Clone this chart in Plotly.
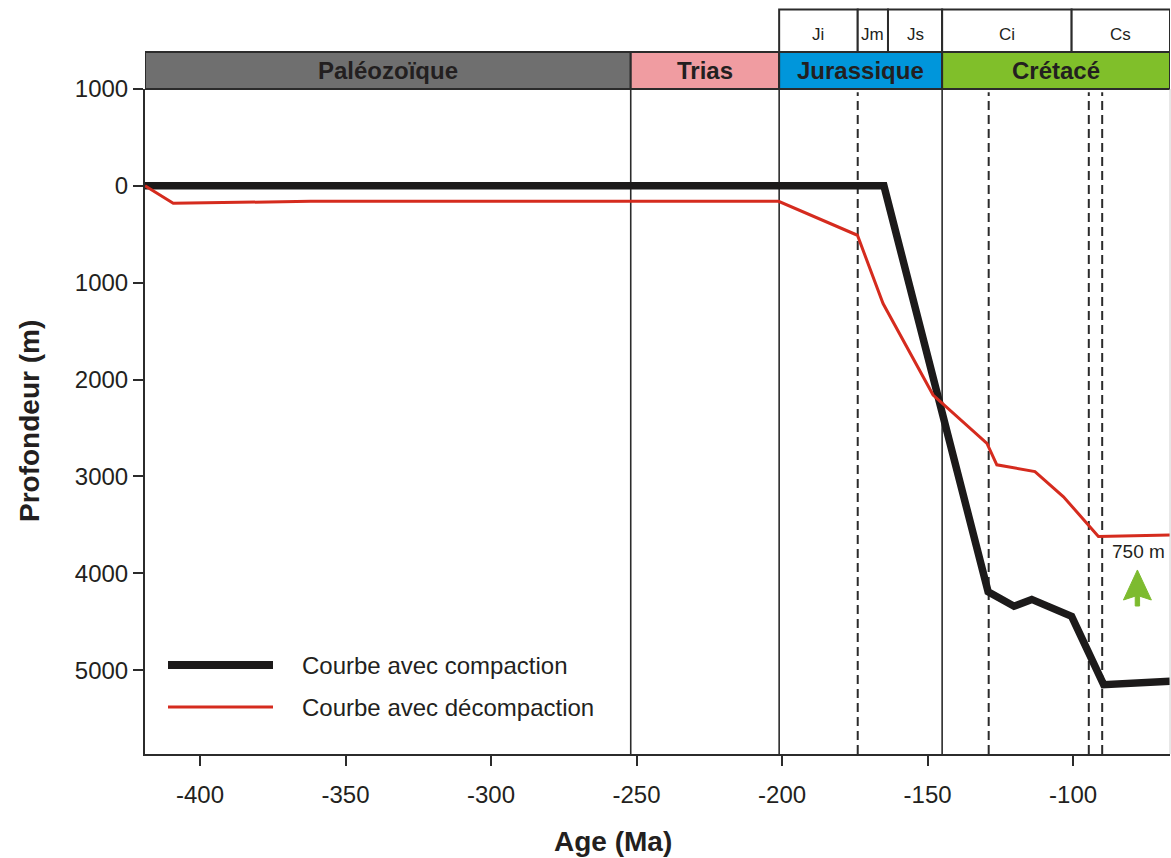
import plotly.graph_objects as go

# ---------------- data ----------------
black_age = [-418.9, -165.0, -129.2, -120.3, -114.2, -100.5, -89.5, -66.7]
black_depth = [0, 0, 4190, 4340, 4270, 4445, 5150, 5115]

red_age = [-418.9, -409.2, -362.0, -201.2, -174.1, -165.3, -148.1, -129.6,
           -126.2, -113.1, -103.3, -91.3, -66.7]
red_depth = [0, 180, 160, 160, 510, 1215, 2160, 2658, 2880, 2950, 3210, 3620, 3605]

series_names = ["Courbe avec compaction", "Courbe avec décompaction"]

period_names = ["Paléozoïque", "Trias", "Jurassique", "Crétacé"]
period_start = [-418.9, -252.0, -201.0, -145.0]
period_end = [-252.0, -201.0, -145.0, -66.7]
period_colors = ["#6f6f6f", "#f09ca1", "#0096db", "#80bf2a"]

stage_names = ["Ji", "Jm", "Js", "Ci", "Cs"]
stage_start = [-201.0, -174.0, -163.6, -145.0, -100.5]
stage_end = [-174.0, -163.6, -145.0, -100.5, -66.7]

solid_bounds = [-252.0, -201.0, -145.0]
dashed_bounds = [-174.0, -129.0, -94.6, -90.0]

x_ticks = [-400, -350, -300, -250, -200, -150, -100]
x_ticktext = ["-400", "-350", "-300", "-250", "-200", "-150", "-100"]
y_ticks = [-1000, 0, 1000, 2000, 3000, 4000, 5000]
y_ticktext = ["1000", "0", "1000", "2000", "3000", "4000", "5000"]

x_range = [-418.9, -66.7]
y_range = [5866, -1000]

uplift_label = "750 m"
uplift_age = -77.9
uplift_depth_text = 3780
arrow_tip = 3966
arrow_base = 4276
arrow_bottom = 4338

# ---------------- layout geometry (pixels) ----------------
W, H = 1171, 858
ML, MR, MT, MB = 145, 1, 89, 104
PW = W - ML - MR
PH = H - MT - MB


def xp(px):
    return (px - ML) / PW


def yp(py):
    return (H - MB - py) / PH


FONT = "Liberation Sans, Arial, sans-serif"
TXT = "#231f20"
EDGE = "#2b2b2b"

fig = go.Figure()

fig.add_trace(go.Scatter(
    x=black_age, y=black_depth, mode="lines", name=series_names[0],
    line=dict(color="#1c1a1a", width=7.5), showlegend=False))
fig.add_trace(go.Scatter(
    x=red_age, y=red_depth, mode="lines", name=series_names[1],
    line=dict(color="#d52b1e", width=3), showlegend=False))

shapes = []
annotations = []

# vertical boundaries
for b in solid_bounds:
    shapes.append(dict(type="line", xref="x", yref="paper", x0=b, x1=b, y0=0, y1=1,
                       line=dict(color=EDGE, width=1.6), layer="below"))
for b in dashed_bounds:
    shapes.append(dict(type="line", xref="x", yref="paper", x0=b, x1=b, y0=0, y1=0.995,
                       line=dict(color=EDGE, width=2, dash="9px,5px"), layer="below"))

# period bar
bar_y0, bar_y1 = 1.0, yp(52)
for name, s, e, c in zip(period_names, period_start, period_end, period_colors):
    shapes.append(dict(type="rect", xref="x", yref="paper", x0=s, x1=e, y0=bar_y0, y1=bar_y1,
                       fillcolor=c, line=dict(color=EDGE, width=2), layer="above"))
    annotations.append(dict(xref="x", yref="paper", x=(s + e) / 2, y=(bar_y0 + bar_y1) / 2,
                            text=name, showarrow=False,
                            font=dict(family=FONT, size=24, color=TXT, weight="bold"),
                            xanchor="center", yanchor="middle"))

# stage boxes
st_y0, st_y1 = bar_y1, yp(9.5)
for name, s, e in zip(stage_names, stage_start, stage_end):
    shapes.append(dict(type="rect", xref="x", yref="paper", x0=s, x1=e, y0=st_y0, y1=st_y1,
                       fillcolor="white", line=dict(color=EDGE, width=2), layer="above"))
    annotations.append(dict(xref="x", yref="paper", x=(s + e) / 2, y=yp(34),
                            text=name, showarrow=False,
                            font=dict(family=FONT, size=17, color=TXT),
                            xanchor="center", yanchor="middle"))

# uplift arrow
aw, sw = 4.8, 0.75
shapes.append(dict(
    type="path", xref="x", yref="y",
    path=(f"M {uplift_age},{arrow_tip} L {uplift_age + aw},{arrow_base} "
          f"L {uplift_age + sw},{arrow_base - 40} L {uplift_age + sw},{arrow_bottom} "
          f"L {uplift_age - sw},{arrow_bottom} L {uplift_age - sw},{arrow_base - 40} "
          f"L {uplift_age - aw},{arrow_base} Z"),
    fillcolor="#7dbb2f", line=dict(color="#7dbb2f", width=1), layer="above"))
annotations.append(dict(xref="x", yref="y", x=uplift_age + 0.5, y=uplift_depth_text,
                        text=uplift_label, showarrow=False,
                        font=dict(family=FONT, size=19, color=TXT),
                        xanchor="center", yanchor="middle"))

# legend (drawn)
leg_rows = [(665, "#1c1a1a", 8, series_names[0]), (707, "#d52b1e", 3, series_names[1])]
for py, col, w, name in leg_rows:
    shapes.append(dict(type="line", xref="paper", yref="paper", x0=xp(168), x1=xp(273),
                       y0=yp(py), y1=yp(py), line=dict(color=col, width=w)))
    annotations.append(dict(xref="paper", yref="paper", x=xp(300), y=yp(py), text=name,
                            showarrow=False, xanchor="left", yanchor="middle",
                            font=dict(family=FONT, size=24, color=TXT)))

# axis titles
annotations.append(dict(xref="paper", yref="paper", x=xp(613), y=yp(841), text="Age (Ma)",
                        showarrow=False, xanchor="center", yanchor="middle",
                        font=dict(family=FONT, size=28, color=TXT, weight="bold")))
annotations.append(dict(xref="paper", yref="paper", x=xp(30), y=yp(421), text="Profondeur (m)",
                        showarrow=False, xanchor="center", yanchor="middle", textangle=-90,
                        font=dict(family=FONT, size=28, color=TXT, weight="bold")))

# faint right frame
shapes.append(dict(type="line", xref="paper", yref="paper", x0=1, x1=1, y0=0, y1=1,
                   line=dict(color="#d0d0d0", width=1)))

fig.update_layout(
    width=W, height=H,
    margin=dict(l=ML, r=MR, t=MT, b=MB, pad=0),
    paper_bgcolor="white", plot_bgcolor="white",
    showlegend=False,
    shapes=shapes, annotations=annotations,
    font=dict(family=FONT, size=24, color=TXT),
)
fig.update_xaxes(
    range=x_range, tickmode="array", tickvals=x_ticks, ticktext=x_ticktext,
    showgrid=False, zeroline=False, showline=True, linecolor=EDGE, linewidth=2,
    ticks="outside", ticklen=10, tickwidth=2, tickcolor=EDGE, ticklabelstandoff=8,
    tickfont=dict(family=FONT, size=24, color=TXT))
fig.update_yaxes(
    range=y_range, autorange=False, tickmode="array", tickvals=y_ticks, ticktext=y_ticktext,
    showgrid=False, zeroline=False, showline=True, linecolor=EDGE, linewidth=2,
    ticks="outside", ticklen=10, tickwidth=2, tickcolor=EDGE,
    tickfont=dict(family=FONT, size=24, color=TXT))

fig.write_html(
    "out.html",
    config={"displayModeBar": False},
    post_script="document.body.style.margin='0';document.body.style.overflow='hidden';",
)
